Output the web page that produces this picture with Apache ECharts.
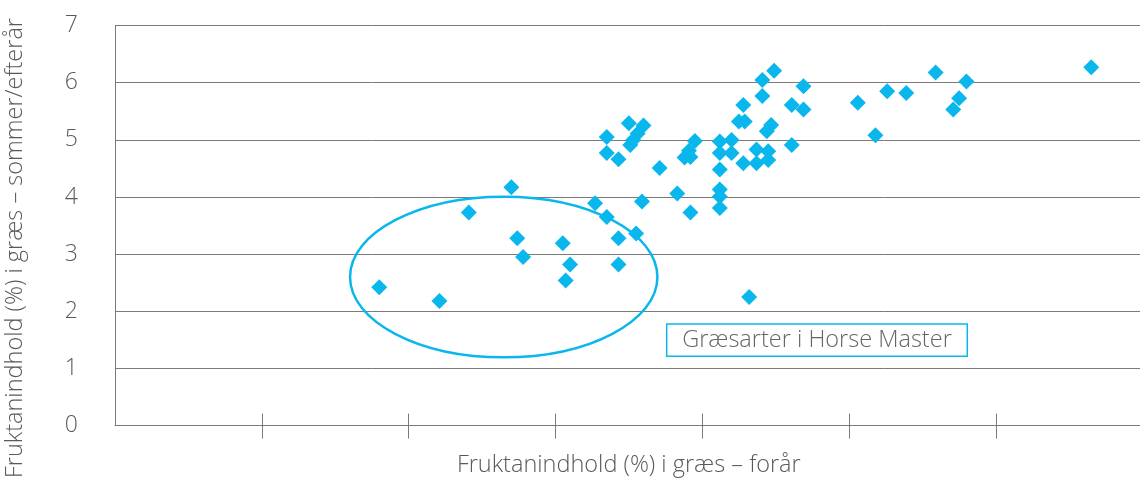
<!DOCTYPE html>
<html><head><meta charset="utf-8">
<script src="https://cdn.jsdelivr.net/npm/echarts@6/dist/echarts.min.js"></script>
<style>html,body{margin:0;padding:0;background:#fff}#c{width:1140px;height:484px}</style>
</head><body><div id="c"></div>
<script>
// Fructan content (%) in grass – spring (x) vs summer/autumn (y)
const springX = [1.80,2.21,2.41,2.70,2.74,2.78,3.05,3.10,3.07,3.27,3.35,3.43,3.43,3.55,3.59,
  3.35,3.35,3.43,3.50,3.60,3.56,3.53,3.51,3.71,3.83,3.92,3.95,3.91,3.88,3.92,
  4.12,4.20,4.12,4.20,4.12,4.12,4.12,4.12,4.28,4.37,4.37,4.45,4.45,4.25,4.29,
  4.28,4.41,4.49,4.41,4.47,4.44,4.61,4.69,4.69,4.61,4.32,5.06,5.18,5.26,5.39,
  5.59,5.80,5.75,5.71,6.65];
const summerY = [2.42,2.18,3.73,4.17,3.28,2.95,3.19,2.82,2.54,3.89,3.65,3.28,2.82,3.36,3.92,
  5.05,4.77,4.66,5.29,5.25,5.11,5.00,4.91,4.51,4.06,3.73,4.98,4.81,4.69,4.70,
  4.97,5.00,4.77,4.77,4.48,4.13,4.01,3.81,4.59,4.83,4.59,4.80,4.65,5.32,5.32,
  5.61,6.05,6.21,5.77,5.26,5.15,5.61,5.94,5.53,4.91,2.25,5.65,5.08,5.85,5.82,
  6.18,6.02,5.73,5.53,6.27];
const yTickLabels = ['0','1','2','3','4','5','6','7'];
const xTickValues = [1,2,3,4,5,6];
const xAxisTitle = 'Fruktanindhold (%) i græs – forår';
const yAxisTitle = 'Fruktanindhold (%) i græs – sommer/efterår';
const boxLabel = 'Græsarter i Horse Master';
const ellipseCenter = [2.648, 2.60];
const ellipseRadius = [1.047, 1.406];
const boxAnchor = [3.758, 1.78];

const FONT = '"Open Sans"';
const GREY = '#7a7a7a';
const TXT = '#5a5a5a';
const CYAN = '#0ab7ec';

const chart = echarts.init(document.getElementById('c'), null, {renderer: 'canvas'});
const points = springX.map((x, i) => [x, summerY[i]]);

const baseX = {
  type: 'value', min: 0, max: 7, interval: 1, position: 'bottom',
  axisLabel: {show: false}, splitLine: {show: false}
};
chart.setOption({
  animation: false,
  textStyle: {fontFamily: FONT},
  grid: {left: 115, right: -2.6, top: 25.6, bottom: 58.4, outerBoundsMode: 'none', containLabel: false},
  xAxis: [
    Object.assign({}, baseX, {
      axisLine: {show: true, lineStyle: {color: GREY, width: 1}},
      axisTick: {show: true, inside: false, length: 13, customValues: xTickValues, lineStyle: {color: GREY}},
      name: xAxisTitle, nameLocation: 'middle', nameGap: 28,
      nameTextStyle: {fontFamily: FONT, fontSize: 23.5, fontWeight: 300, color: TXT}
    }),
    Object.assign({}, baseX, {
      axisLine: {show: false},
      axisTick: {show: true, inside: true, length: 12, customValues: xTickValues, lineStyle: {color: GREY}}
    })
  ],
  yAxis: {
    type: 'value', min: 0, max: 7, interval: 1,
    axisLine: {show: true, lineStyle: {color: GREY, width: 1}},
    axisTick: {show: false},
    axisLabel: {margin: 37, fontFamily: FONT, fontSize: 23, fontWeight: 300, color: TXT,
      formatter: v => yTickLabels[Math.round(v)]},
    splitLine: {show: true, lineStyle: {color: GREY, width: 1}}
  },
  series: [{
    type: 'scatter', xAxisIndex: 0, yAxisIndex: 0,
    symbol: 'diamond', symbolSize: 16,
    itemStyle: {color: CYAN, opacity: 1},
    data: points
  }]
});

function drawOverlay() {
  const c = chart.convertToPixel({gridIndex: 0}, ellipseCenter);
  const e = chart.convertToPixel({gridIndex: 0}, [ellipseCenter[0] + ellipseRadius[0], ellipseCenter[1] + ellipseRadius[1]]);
  const b = chart.convertToPixel({gridIndex: 0}, boxAnchor);
  chart.setOption({
    graphic: [
      {type: 'ellipse', shape: {cx: c[0], cy: c[1], rx: Math.abs(e[0] - c[0]), ry: Math.abs(c[1] - e[1])},
        style: {fill: 'none', stroke: CYAN, lineWidth: 2.5}, z: 5},
      {type: 'rect', shape: {x: b[0], y: b[1], width: 300.6, height: 32.3},
        style: {fill: '#fff', stroke: CYAN, lineWidth: 1.5}, z: 6},
      {type: 'text', x: b[0] + 150.3, y: b[1] + 16.5,
        style: {text: boxLabel, font: '300 23.5px ' + FONT, fill: '#666', align: 'center', verticalAlign: 'middle'}, z: 7},
      {type: 'text', x: 15, y: 248, rotation: Math.PI / 2,
        style: {text: yAxisTitle, font: '300 23.5px ' + FONT, fill: TXT, align: 'center', verticalAlign: 'middle'}, z: 7}
    ]
  });
}
drawOverlay();
</script>
</body></html>
